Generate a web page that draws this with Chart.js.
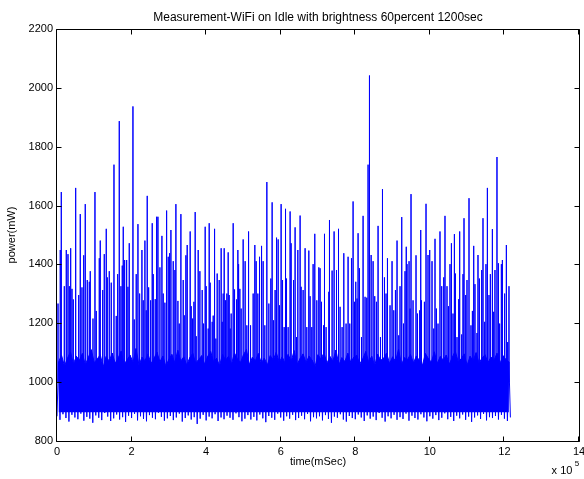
<!DOCTYPE html>
<html>
<head>
<meta charset="utf-8">
<title>Measurement-WiFi on Idle</title>
<script src="https://cdn.jsdelivr.net/npm/chart.js@4.4.0/dist/chart.umd.min.js"></script>
<style>
  html, body { margin: 0; padding: 0; background: #fff; }
  canvas { display: block; }
</style>
</head>
<body>
<canvas id="power-chart" width="584" height="479"></canvas>
<script>
// Idle power trace, WiFi on, brightness 60%, 1200 s run

const BAND_STEP_MS = 8000; // one trough + one crest per step
const BAND_FLOOR = 898;    // lower edge of the dense part of the band (mW)

// lowest readings of the idle noise band (mW), one per step
const troughs = [
  884, 872, 891, 878, 866, 889, 880, 874, 893, 869,
  882, 876, 862, 887, 879, 871, 895, 883, 868, 877,
  890, 873, 881, 865, 886, 878, 892, 870, 884, 875,
  867, 888, 879, 874, 896, 882, 869, 877, 885, 871,
  880, 893, 866, 878, 887, 873, 881, 858, 876, 889,
  870, 883, 877, 891, 868, 880, 874, 886, 879, 872,
  894, 881, 867, 876, 888, 873, 882, 870, 890, 877,
  864, 885, 879, 872, 893, 880, 869, 884, 876, 889,
  871, 878, 886, 874, 892, 867, 881, 877, 884, 870,
  888, 875, 862, 883, 879, 891, 873, 866, 885, 878,
  874, 890, 880, 868, 887, 876, 883, 871, 895, 879,
  866, 884, 877, 889, 872, 881, 875, 893, 869, 886,
  878, 873, 891, 880, 867, 884, 876, 888, 871, 879,
  894, 874, 882, 868, 886, 877, 890, 872, 883, 865,
  880, 887, 875, 892, 870, 881, 878, 885, 873, 889,
  876, 868, 880
];

// highest ordinary readings of the band (mW), half a step after each trough
const crests = [
  1068, 1092, 1055, 1081, 1103, 1062, 1088, 1074, 1097, 1059,
  1084, 1110, 1066, 1079, 1093, 1052, 1087, 1071, 1099, 1064,
  1082, 1105, 1060, 1076, 1091, 1068, 1114, 1057, 1085, 1073,
  1096, 1063, 1080, 1102, 1069, 1089, 1054, 1078, 1094, 1066,
  1108, 1072, 1086, 1058, 1083, 1098, 1065, 1077, 1090, 1061,
  1087, 1104, 1070, 1081, 1056, 1095, 1074, 1088, 1062, 1099,
  1079, 1067, 1092, 1111, 1060, 1084, 1073, 1097, 1065, 1082,
  1058, 1090, 1076, 1101, 1068, 1086, 1063, 1094, 1071, 1107,
  1061, 1080, 1096, 1066, 1089, 1075, 1053, 1093, 1078, 1100,
  1064, 1087, 1072, 1109, 1059, 1083, 1070, 1098, 1067, 1085,
  1091, 1062, 1079, 1104, 1069, 1088, 1056, 1095, 1074, 1081,
  1099, 1063, 1086, 1071, 1112, 1060, 1083, 1077, 1094, 1066,
  1089, 1073, 1057, 1097, 1080, 1068, 1103, 1064, 1087, 1075,
  1092, 1061, 1084, 1106, 1070, 1079, 1096, 1058, 1088, 1072,
  1100, 1065, 1082, 1093, 1067, 1085, 1074, 1098, 1063, 1090,
  1077, 1069
];

// short power bursts above the band: time (ms) and peak (mW)
const SPIKE_BASE = 1000;
const spikeTimes = [
  2700, 8800, 11500, 19600, 24900, 29500, 33000, 36700, 40200, 43700,
  50100, 58200, 62400, 67000, 71600, 75800, 81200, 86600, 89200, 96500,
  101800, 105300, 113400, 116000, 122500, 126800, 132100, 134800, 140200, 145500,
  152800, 158900, 162700, 167000, 171500, 175000, 177700, 181400, 186800, 190300,
  193800, 203700, 207200, 212500, 217100, 221600, 227800, 231300, 235800, 239300,
  242000, 245800, 251100, 255400, 258100, 263400, 267200, 270700, 276000, 281400,
  284900, 289400, 294000, 298300, 302000, 305500,
  311700, 316200, 318900, 324300, 327800, 332300, 338500, 341200, 345700, 349200,
  357200, 359900, 363700, 367200, 370600, 373300, 378700, 383200, 389400, 393200,
  397400, 400100, 405500, 408200, 410800, 416200, 418900, 422600, 426100, 429600,
  435000, 440300, 443000, 445700, 448400, 452100, 455600, 459100, 461800, 464400,
  467100, 472500, 476200, 481600, 485100, 487000, 490400, 493900, 499300, 504600,
  509200, 513800, 519100, 526100, 530600, 534100, 538700, 543200, 548600, 552900,
  557400, 562800, 568200, 573500, 577000, 580800, 585000, 588800, 593100, 596800,
  601100, 604900, 609200, 612900, 615600, 619900,
  625200, 627900, 634400, 638600, 642400, 645900, 652000, 654700, 660100, 665400,
  670000, 675400, 678800, 683400, 686900, 691400, 696800, 702200, 705600, 709400,
  714800, 717400, 721700, 729000, 730800, 737800, 743200, 749600, 755000, 759200,
  764600, 769200, 775300, 780700, 785200, 789800, 794100, 797800, 801300, 804800,
  807500, 811200, 816600, 820900, 826200, 830800, 834300, 838000, 842500, 847800,
  852200, 856800, 861100, 867500, 871800, 873700, 878200, 882500, 886300, 893200,
  898600, 903200, 907700, 912000, 916600, 920000, 924600, 929200, 933400, 936700,
  938800, 944200, 946800, 949500, 954900, 962900, 966700, 972800, 975500, 977400,
  985400, 989700, 995100, 999600, 1005800, 1010400, 1013800, 1017600, 1021900, 1027200,
  1031800, 1037200, 1040600, 1046000, 1049800, 1054000, 1057800, 1062100, 1065800, 1068500,
  1072800, 1077400, 1080000, 1085400, 1088900, 1091600, 1096100, 1099600, 1105000, 1110300,
  1114100, 1117600, 1121000, 1126400, 1129100, 1132800, 1139000, 1142500, 1147000, 1150500,
  1154300, 1158600, 1162300, 1167700, 1171200, 1174600, 1180000, 1183800, 1187200, 1191800,
  1194500, 1200600, 1205200, 1208700, 1212200
];
const spikePeaks = [
  1267, 1449, 1646, 1326, 1449, 1435, 1326, 1455, 1317, 1281,
  1660, 1296, 1571, 1322, 1431, 1605, 1347, 1341, 1377, 1216,
  1646, 1242, 1421, 1481, 1313, 1435, 1521, 1356, 1377, 1338,
  1739, 1225, 1367, 1887, 1326, 1396, 1528, 1415, 1415, 1324,
  1472, 1937, 1213, 1367, 1537, 1301, 1449, 1278, 1481, 1244,
  1633, 1322, 1278, 1540, 1367, 1282, 1562, 1562, 1390, 1497,
  1301, 1270, 1583, 1426, 1438, 1517,
  1411, 1381, 1605, 1276, 1199, 1571, 1347, 1227, 1431, 1466,
  1512, 1258, 1216, 1273, 1578, 1156, 1449, 1377, 1313, 1199,
  1528, 1326, 1182, 1540, 1338, 1205, 1226, 1521, 1148, 1369,
  1347, 1455, 1205, 1301, 1455, 1278, 1301, 1441, 1296, 1182,
  1233, 1540, 1315, 1281, 1449, 1401, 1317, 1250, 1485, 1411,
  1193, 1512, 1193, 1301, 1466, 1411, 1301, 1426, 1463, 1411,
  1193, 1680, 1267, 1352, 1611, 1210, 1313, 1491, 1485, 1261,
  1605, 1347, 1187, 1589, 1352, 1187,
  1580, 1472, 1347, 1526, 1153, 1449, 1566, 1324, 1313, 1455,
  1187, 1447, 1292, 1187, 1401, 1504, 1278, 1390, 1387, 1273,
  1193, 1504, 1187, 1307, 1551, 1379, 1512, 1381, 1521, 1256,
  1187, 1438, 1199, 1426, 1199, 1421, 1614, 1273, 1341, 1284,
  1506, 1387, 1153, 1565, 1290, 1287, 1739, 2042, 1432, 1411,
  1292, 1273, 1531, 1153, 1455, 1656, 1356, 1301, 1421, 1261,
  1411, 1244, 1313, 1481, 1159, 1326, 1561, 1199, 1377, 1460,
  1401, 1411, 1250, 1639, 1278, 1431, 1233, 1244, 1517, 1278,
  1273, 1606, 1432, 1449, 1411, 1182, 1487, 1250, 1199, 1512,
  1326, 1356, 1565, 1326, 1258, 1401, 1472, 1233, 1503, 1369,
  1153, 1282, 1512, 1162, 1367, 1557, 1296, 1347, 1625, 1193,
  1242, 1463, 1333, 1167, 1432, 1352, 1381, 1557, 1205, 1401,
  1660, 1296, 1367, 1520, 1239, 1381, 1765, 1404, 1199, 1401,
  1415, 1301, 1466, 1136, 1326
];

const xTicks = [0, 2, 4, 6, 8, 10, 12, 14]; // x 10^5 ms
const yTicks = [800, 1000, 1200, 1400, 1600, 1800, 2000, 2200];

const BLUE = '#0000ff';
const FONT = '"Liberation Sans", Arial, Helvetica, sans-serif';

const troughPts = troughs.map((p, i) => ({ x: i * BAND_STEP_MS, y: p }));
const crestPts = crests.map((p, i) => ({ x: i * BAND_STEP_MS + BAND_STEP_MS / 2, y: p }));

// zigzag through troughs and crests gives the ragged edges of the band
const bandPts = troughPts.concat(crestPts).sort((a, b) => a.x - b.x);

// each burst is a vertical stroke rising out of the band
const spikePts = [];
spikeTimes.forEach((t, i) => {
  spikePts.push({ x: t, y: SPIKE_BASE }, { x: t, y: spikePeaks[i] }, { x: t, y: SPIKE_BASE });
});

// MATLAB-style box: frame, inward ticks, title and axis labels
const matlabAxes = {
  id: 'matlabAxes',
  afterDatasetsDraw(chart) {
    const { ctx, chartArea: a, scales } = chart;
    const L = a.left - 0.5, R = a.right + 0.5, T = a.top + 0.5, B = a.bottom + 0.5;
    ctx.save();
    ctx.strokeStyle = '#000';
    ctx.lineWidth = 1;
    ctx.beginPath();
    ctx.rect(L, T, R - L, B - T);
    for (const v of xTicks) {
      const px = Math.round(scales.x.getPixelForValue(v * 1e5)) - 0.5;
      ctx.moveTo(px, B); ctx.lineTo(px, B - 5);
      ctx.moveTo(px, T); ctx.lineTo(px, T + 5);
    }
    for (const v of yTicks) {
      const py = Math.round(scales.y.getPixelForValue(v)) + 0.5;
      ctx.moveTo(L, py); ctx.lineTo(L + 5, py);
      ctx.moveTo(R, py); ctx.lineTo(R - 5, py);
    }
    ctx.stroke();
    ctx.restore();
  },
  afterDraw(chart) {
    const { ctx, chartArea: a } = chart;
    const cx = (a.left + a.right) / 2;
    ctx.save();
    ctx.fillStyle = '#000';
    ctx.textAlign = 'center';
    ctx.textBaseline = 'middle';
    ctx.font = '12px ' + FONT;
    ctx.fillText('Measurement-WiFi on Idle with brightness 60percent 1200sec', cx, 18);
    ctx.font = '11px ' + FONT;
    ctx.fillText('time(mSec)', cx, 462);
    ctx.fillText('x 10', 562, 471);
    ctx.font = '8px ' + FONT;
    ctx.fillText('5', 577, 464);
    ctx.translate(12, (a.top + a.bottom) / 2);
    ctx.rotate(-Math.PI / 2);
    ctx.font = '11px ' + FONT;
    ctx.fillText('power(mW)', 0, 0);
    ctx.restore();
  }
};

new Chart(document.getElementById('power-chart'), {
  type: 'line',
  data: {
    datasets: [
      {
        label: 'band core',
        data: crestPts,
        borderColor: BLUE,
        backgroundColor: BLUE,
        borderWidth: 1,
        pointRadius: 0,
        fill: { value: BAND_FLOOR },
      },
      {
        label: 'band',
        data: bandPts,
        borderColor: BLUE,
        borderWidth: 1,
        pointRadius: 0,
        fill: false,
      },
      {
        label: 'bursts',
        data: spikePts,
        borderColor: BLUE,
        borderWidth: 1,
        pointRadius: 0,
        fill: false,
      },
    ],
  },
  options: {
    responsive: false,
    animation: false,
    events: [],
    layout: { padding: { top: 29, right: 5, bottom: 0, left: 0 } },
    plugins: {
      legend: { display: false },
      tooltip: { enabled: false },
      title: { display: false },
    },
    scales: {
      x: {
        type: 'linear',
        min: 0,
        max: 1400000,
        afterBuildTicks: (s) => { s.ticks = xTicks.map(v => ({ value: v * 1e5 })); },
        afterFit: (s) => { s.height = 38; s.paddingLeft = 0; s.paddingRight = 0; },
        grid: { display: false, drawTicks: false },
        border: { display: false },
        ticks: {
          padding: 4,
          maxRotation: 0,
          color: '#000',
          font: { family: FONT, size: 11 },
          callback: (v) => String(v / 1e5),
        },
      },
      y: {
        type: 'linear',
        min: 800,
        max: 2200,
        afterBuildTicks: (s) => { s.ticks = yTicks.map(v => ({ value: v })); },
        afterFit: (s) => { s.width = 57; s.paddingTop = 0; s.paddingBottom = 0; },
        grid: { display: false, drawTicks: false },
        border: { display: false },
        ticks: {
          padding: 4,
          color: '#000',
          font: { family: FONT, size: 11 },
          callback: (v) => String(v),
        },
      },
    },
  },
  plugins: [matlabAxes],
});
</script>
</body>
</html>
